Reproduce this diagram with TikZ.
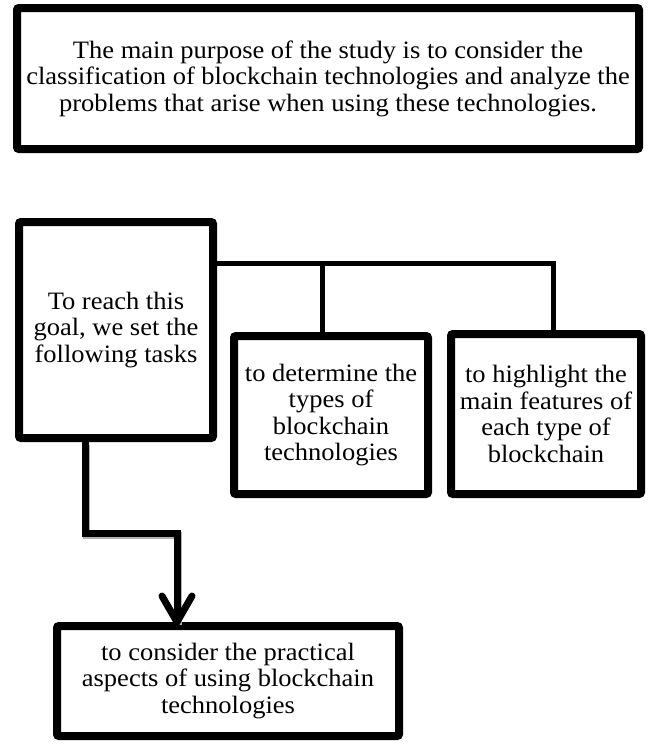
\documentclass[tikz,border=0pt]{standalone}
\usepackage{fontspec}
\setmainfont{Liberation Serif}[FakeStretch=1.06]
\usetikzlibrary{shadows,arrows.meta,calc}
\begin{document}
\begin{tikzpicture}[x=1pt,y=-1pt,
  box/.style={draw=black, line width=8pt, fill=white, rounded corners=2pt,
    align=center, inner sep=0pt,
    font=\fontsize{25}{26.5}\selectfont,
    drop shadow={shadow xshift=2pt, shadow yshift=-3pt, fill=black!35, opacity=0.8}},
  conn/.style={draw=black, line width=5pt},
  bigconn/.style={draw=black, line width=7pt,
    preaction={draw=black!30, line width=7pt, transform canvas={xshift=1.5pt,yshift=-2.5pt}}}]
\useasboundingbox (0,0) rectangle (649,744);
\node[box, minimum width=622pt, minimum height=141pt] (goal) at (328,78.5)
  {The main purpose of the study is to consider the\\
   classification of blockchain technologies and analyze the\\
   problems that arise when using these technologies.};
\node[box, minimum width=194pt, minimum height=216pt] (tasks) at (116,330)
  {To reach this\\ goal, we set the\\ following tasks};
\node[box, minimum width=194pt, minimum height=158pt] (types) at (331,415)
  {to determine the\\ types of\\ blockchain\\ technologies};
\node[box, minimum width=190pt, minimum height=160pt] (feat) at (546,414)
  {to highlight the\\ main features of\\ each type of\\ blockchain};
\node[box, minimum width=342pt, minimum height=110pt] (pract) at (228,681)
  {to consider the practical\\ aspects of using blockchain\\ technologies};
\coordinate (h1) at (tasks.east |- 0,263);
\coordinate (h2) at (553,263);
\coordinate (h3) at (322,263);
\coordinate (b1) at (85,533);
\coordinate (b2) at (177,533);
\coordinate (tip) at (b2 |- pract.north);
\draw[conn] (h1) -- (h2) -- (h2 |- feat.north);
\draw[conn] (h3) -- (h3 |- types.north);
\draw[bigconn] (b1 |- tasks.south) -- (b1) -- (b2) -- (tip);
\draw[line width=7pt, line cap=round, line join=miter]
  ($(tip)+(-15,-26)$) -- (tip) -- ($(tip)+(15,-26)$);
\end{tikzpicture}
\end{document}
